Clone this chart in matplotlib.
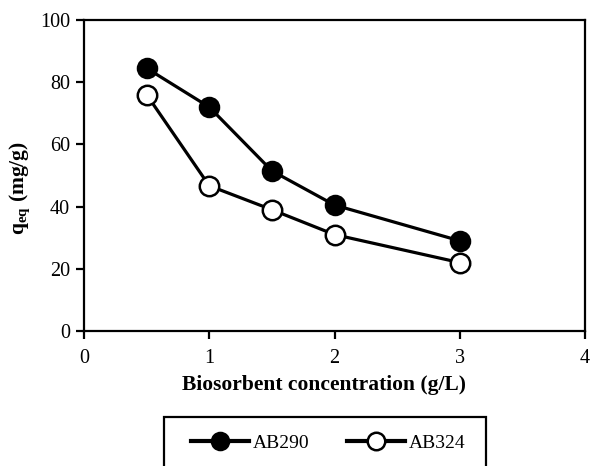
import matplotlib
matplotlib.use("Agg")
import matplotlib.pyplot as plt
from matplotlib.patches import Rectangle

conc = [0.5, 1.0, 1.5, 2.0, 3.0]
ab290 = [84.5, 72.0, 51.5, 40.5, 29.0]
ab324 = [76.0, 46.7, 39.0, 31.0, 22.0]
xticks = [0, 1, 2, 3, 4]
yticks = [0, 20, 40, 60, 80, 100]

plt.rcParams['font.family'] = ['Liberation Serif', 'DejaVu Serif']
plt.rcParams['mathtext.fontset'] = 'custom'
plt.rcParams['mathtext.rm'] = 'Liberation Serif'
plt.rcParams['mathtext.bf'] = 'Liberation Serif:bold'
plt.rcParams['mathtext.it'] = 'Liberation Serif:italic'

fig = plt.figure(figsize=(5.91, 4.66), dpi=100)
ax = fig.add_axes([84/591, 1-331/466, (585-84)/591, (331-20)/466])

l1, = ax.plot(conc, ab290, '-o', color='black', lw=2.3, ms=14,
              mfc='black', mec='black', mew=1.5, label='AB290')
l2, = ax.plot(conc, ab324, '-o', color='black', lw=2.3, ms=14,
              mfc='white', mec='black', mew=1.8, label='AB324')

ax.set_xlim(0, 4)
ax.set_ylim(0, 100)
ax.set_xticks(xticks)
ax.set_yticks(yticks)
for s in ax.spines.values():
    s.set_linewidth(1.6)
ax.tick_params(direction='out', length=6, width=1.6, labelsize=14.5,
               top=False, right=False)
ax.tick_params(axis='x', pad=7)
ax.tick_params(axis='y', pad=4)
ax.set_xlabel('Biosorbent concentration (g/L)', fontsize=15.5, fontweight='bold')
ax.xaxis.set_label_coords((324-84)/501, (331-385)/311)
ax.xaxis.label.set_va('center')
ax.set_ylabel(r'$\mathbf{q_{eq}}$ (mg/g)', fontsize=15.5, fontweight='bold')
ax.yaxis.set_label_coords((20-84)/501, (331-188)/311)
ax.yaxis.label.set_va('center')

rect = Rectangle((164/591, -0.02), (486-164)/591, (466-417)/466 + 0.02,
                 transform=fig.transFigure, fill=False, lw=1.6, ec='black', clip_on=False)
fig.patches.append(rect)

leg = fig.legend(handles=[l1, l2], loc='center left', bbox_to_anchor=(191/591, 1-443/466),
                 ncol=2, frameon=False, fontsize=14, handlelength=3.0, handletextpad=0.2,
                 columnspacing=1.9, borderpad=0, borderaxespad=0, markerscale=0.9)
for h in leg.legend_handles:
    h.set_linewidth(3.0)

fig.savefig('out.png', dpi=100)
